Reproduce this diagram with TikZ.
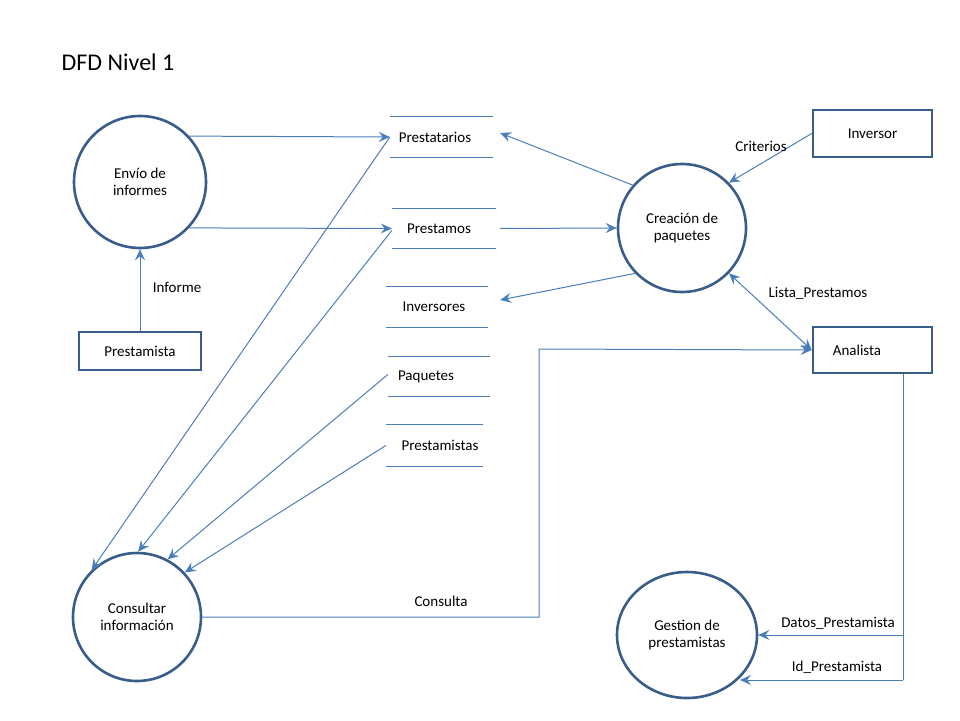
\documentclass[tikz,border=0pt]{standalone}
\usepackage{fontspec}
\setmainfont{Carlito}
\usetikzlibrary{arrows.meta,shapes.geometric}
\definecolor{dk}{HTML}{385D8A}
\definecolor{ln}{HTML}{4A7EBB}
\begin{document}
\begin{tikzpicture}[x=1pt,y=-1pt,
  txt/.style={font=\fontsize{15}{18}\selectfont,inner sep=0pt},
  proc/.style={circle,draw=dk,line width=2.6pt,minimum size=#1,inner sep=0pt,align=center,font=\fontsize{15}{17.5}\selectfont},
  ent/.style={rectangle,draw=dk,line width=2.6pt,inner sep=0pt,font=\fontsize{15}{18}\selectfont},
  store/.style={rectangle,inner sep=0pt,font=\fontsize{15}{18}\selectfont},
  sline/.style={draw=ln,line width=1pt},
  flow/.style={draw=ln,line width=1pt,-{Stealth[length=11pt,width=10pt,inset=4pt]}},
  flow2/.style={draw=ln,line width=1pt,{Stealth[length=11pt,width=10pt,inset=4pt]}-{Stealth[length=11pt,width=10pt,inset=4pt]}},
  link/.style={draw=ln,line width=1pt}
]
\useasboundingbox (0,0) rectangle (960,720);

% title
\node[font=\fontsize{24}{28}\selectfont,inner sep=0pt] (title) at (118,62) {DFD Nivel 1};

% processes
\node[proc=132pt] (env) at (140,182) {Envío de\\informes};
\node[proc=128pt] (cr) at (682,228) {Creación de\\paquetes};
\node[proc=128pt] (ci) at (137,617) {Consultar\\información};
\node[ellipse,draw=dk,line width=2.6pt,minimum width=140pt,minimum height=126pt,inner sep=0pt,align=center,font=\fontsize{15}{17.5}\selectfont] (ge) at (687,635) {Gestion de\\prestamistas};

% external entities
\node[ent,minimum width=122pt,minimum height=38pt] (pm) at (140,351) {Prestamista};
\node[ent,minimum width=119pt,minimum height=47pt] (ir) at (872.5,133.5) {Inversor};
\node[ent,minimum width=119pt,minimum height=46pt] (an) at (872.5,350) {\hspace*{-31pt}Analista};

% data stores
\node[store,minimum width=103pt,minimum height=40pt] (ps) at (441.5,137) {\hspace*{-13pt}Prestatarios};
\node[store,minimum width=104pt,minimum height=39pt] (pt) at (444,228.5) {\hspace*{-10pt}Prestamos};
\node[store,minimum width=102pt,minimum height=40pt] (iv) at (437,307) {\hspace*{-6pt}Inversores};
\node[store,minimum width=102pt,minimum height=39pt] (pq) at (439,376.5) {\hspace*{-26pt}Paquetes};
\node[store,minimum width=97pt,minimum height=41pt] (pe) at (434.5,445.5) {\hspace*{11pt}Prestamistas};
\foreach \s in {ps,pt,iv,pq,pe}{
  \draw[sline] (\s.north west) -- (\s.north east) (\s.south west) -- (\s.south east);
}

% coordinates
\coordinate (bend) at (539,349);
\coordinate (drop) at (903,635);
\coordinate (drop2) at (903,680);

% flows
\draw[flow] (pm.north) -- (env.south);
\draw[flow] (env.43) -- (ps.west);
\draw[flow] (env.-43) -- (pt.west);
\draw[flow] (ps.west) -- (ci.134);
\draw[flow] ([yshift=-2pt]pt.west) -- (ci.89);
\draw[flow] ([yshift=2pt]pq.west) -- (ci.62);
\draw[flow] (pe.west) -- (ci.43);
\draw[flow] ([xshift=4pt]pt.east) -- (cr.west);
\draw[flow] (cr.139) -- ([xshift=7pt,yshift=4pt]ps.east);
\draw[flow] (cr.-136) -- ([xshift=12pt,yshift=7pt]iv.east);
\draw[flow] (ir.west) -- (cr.44);
\draw[flow2] (cr.-44) -- (an.west);
\draw[flow] (ci.east) -| (bend) -- (an.west);
\draw[link] (an.south -| drop) -- (drop2);
\draw[flow] (drop) -- (ge.east);
\draw[flow] (drop2) -- (ge.-39 |- drop2);

% labels
\node[txt] (l1) at (177,287) {Informe};
\node[txt] (l2) at (761,146) {Criterios};
\node[txt] (l3) at (818,293) {Lista\_Prestamos};
\node[txt] (l4) at (441,601) {Consulta};
\node[txt] (l5) at (838,623) {Datos\_Prestamista};
\node[txt] (l6) at (837,667) {Id\_Prestamista};
\end{tikzpicture}
\end{document}
